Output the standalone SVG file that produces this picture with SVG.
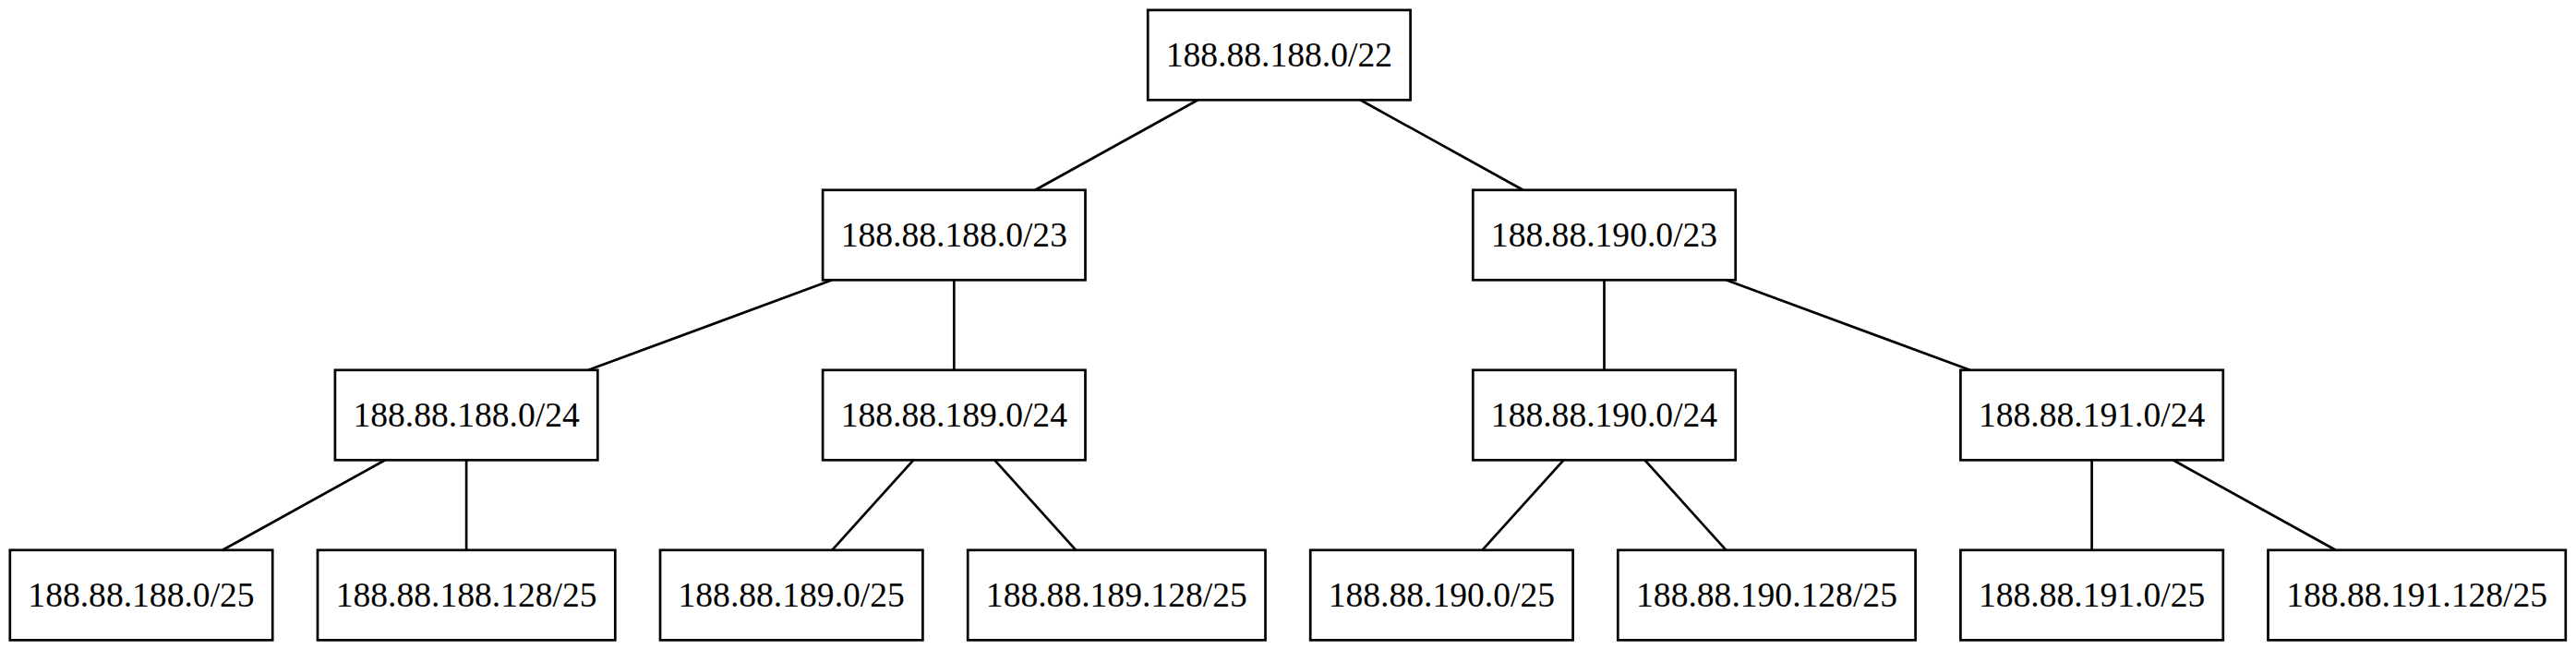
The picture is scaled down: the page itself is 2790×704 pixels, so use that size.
<svg xmlns="http://www.w3.org/2000/svg" width="2790" height="704" viewBox="0 0 2790 704">
<style>
.n rect{fill:#fff;stroke:#000;stroke-width:2.7}
.n text{font-family:"Liberation Serif","Times New Roman",serif;font-size:37.6px;fill:#000;text-anchor:middle}
#edges line{stroke:#000;stroke-width:2.7}
</style>
<rect width="2790" height="704" fill="#fff"/>
<g id="edges">
<line x1="1297.4" y1="108.3" x2="1121.3" y2="205.8"/>
<line x1="1473.4" y1="108.3" x2="1649.5" y2="205.8"/>
<line x1="901.2" y1="303.3" x2="637.2" y2="400.8"/>
<line x1="1033.3" y1="303.3" x2="1033.3" y2="400.8"/>
<line x1="1737.5" y1="303.3" x2="1737.5" y2="400.8"/>
<line x1="1869.5" y1="303.3" x2="2133.6" y2="400.8"/>
<line x1="417.1" y1="498.3" x2="241.0" y2="595.8"/>
<line x1="505.1" y1="498.3" x2="505.1" y2="595.8"/>
<line x1="989.3" y1="498.3" x2="901.2" y2="595.8"/>
<line x1="1077.3" y1="498.3" x2="1165.3" y2="595.8"/>
<line x1="1693.5" y1="498.3" x2="1605.4" y2="595.8"/>
<line x1="1781.5" y1="498.3" x2="1869.5" y2="595.8"/>
<line x1="2265.6" y1="498.3" x2="2265.6" y2="595.8"/>
<line x1="2353.6" y1="498.3" x2="2529.7" y2="595.8"/>
</g>
<g id="n22" class="n"><rect x="1243.2" y="10.9" width="284.4" height="97.4"/><text x="1385.4" y="71.6">188.88.188.0/22</text></g>
<g id="n188_23" class="n"><rect x="891.1" y="205.8" width="284.4" height="97.5"/><text x="1033.3" y="266.6">188.88.188.0/23</text></g>
<g id="n190_23" class="n"><rect x="1595.3" y="205.8" width="284.4" height="97.5"/><text x="1737.5" y="266.6">188.88.190.0/23</text></g>
<g id="n188_24" class="n"><rect x="362.9" y="400.8" width="284.4" height="97.5"/><text x="505.1" y="461.6">188.88.188.0/24</text></g>
<g id="n189_24" class="n"><rect x="891.1" y="400.8" width="284.4" height="97.5"/><text x="1033.3" y="461.6">188.88.189.0/24</text></g>
<g id="n190_24" class="n"><rect x="1595.3" y="400.8" width="284.4" height="97.5"/><text x="1737.5" y="461.6">188.88.190.0/24</text></g>
<g id="n191_24" class="n"><rect x="2123.4" y="400.8" width="284.4" height="97.5"/><text x="2265.6" y="461.6">188.88.191.0/24</text></g>
<g id="n188_0_25" class="n"><rect x="10.8" y="595.8" width="284.4" height="97.5"/><text x="153.0" y="656.6">188.88.188.0/25</text></g>
<g id="n188_128_25" class="n"><rect x="344.0" y="595.8" width="322.3" height="97.5"/><text x="505.1" y="656.6">188.88.188.128/25</text></g>
<g id="n189_0_25" class="n"><rect x="715.0" y="595.8" width="284.4" height="97.5"/><text x="857.2" y="656.6">188.88.189.0/25</text></g>
<g id="n189_128_25" class="n"><rect x="1048.2" y="595.8" width="322.3" height="97.5"/><text x="1209.3" y="656.6">188.88.189.128/25</text></g>
<g id="n190_0_25" class="n"><rect x="1419.2" y="595.8" width="284.4" height="97.5"/><text x="1561.4" y="656.6">188.88.190.0/25</text></g>
<g id="n190_128_25" class="n"><rect x="1752.3" y="595.8" width="322.3" height="97.5"/><text x="1913.5" y="656.6">188.88.190.128/25</text></g>
<g id="n191_0_25" class="n"><rect x="2123.4" y="595.8" width="284.4" height="97.5"/><text x="2265.6" y="656.6">188.88.191.0/25</text></g>
<g id="n191_128_25" class="n"><rect x="2456.5" y="595.8" width="322.3" height="97.5"/><text x="2617.7" y="656.6">188.88.191.128/25</text></g>
</svg>
